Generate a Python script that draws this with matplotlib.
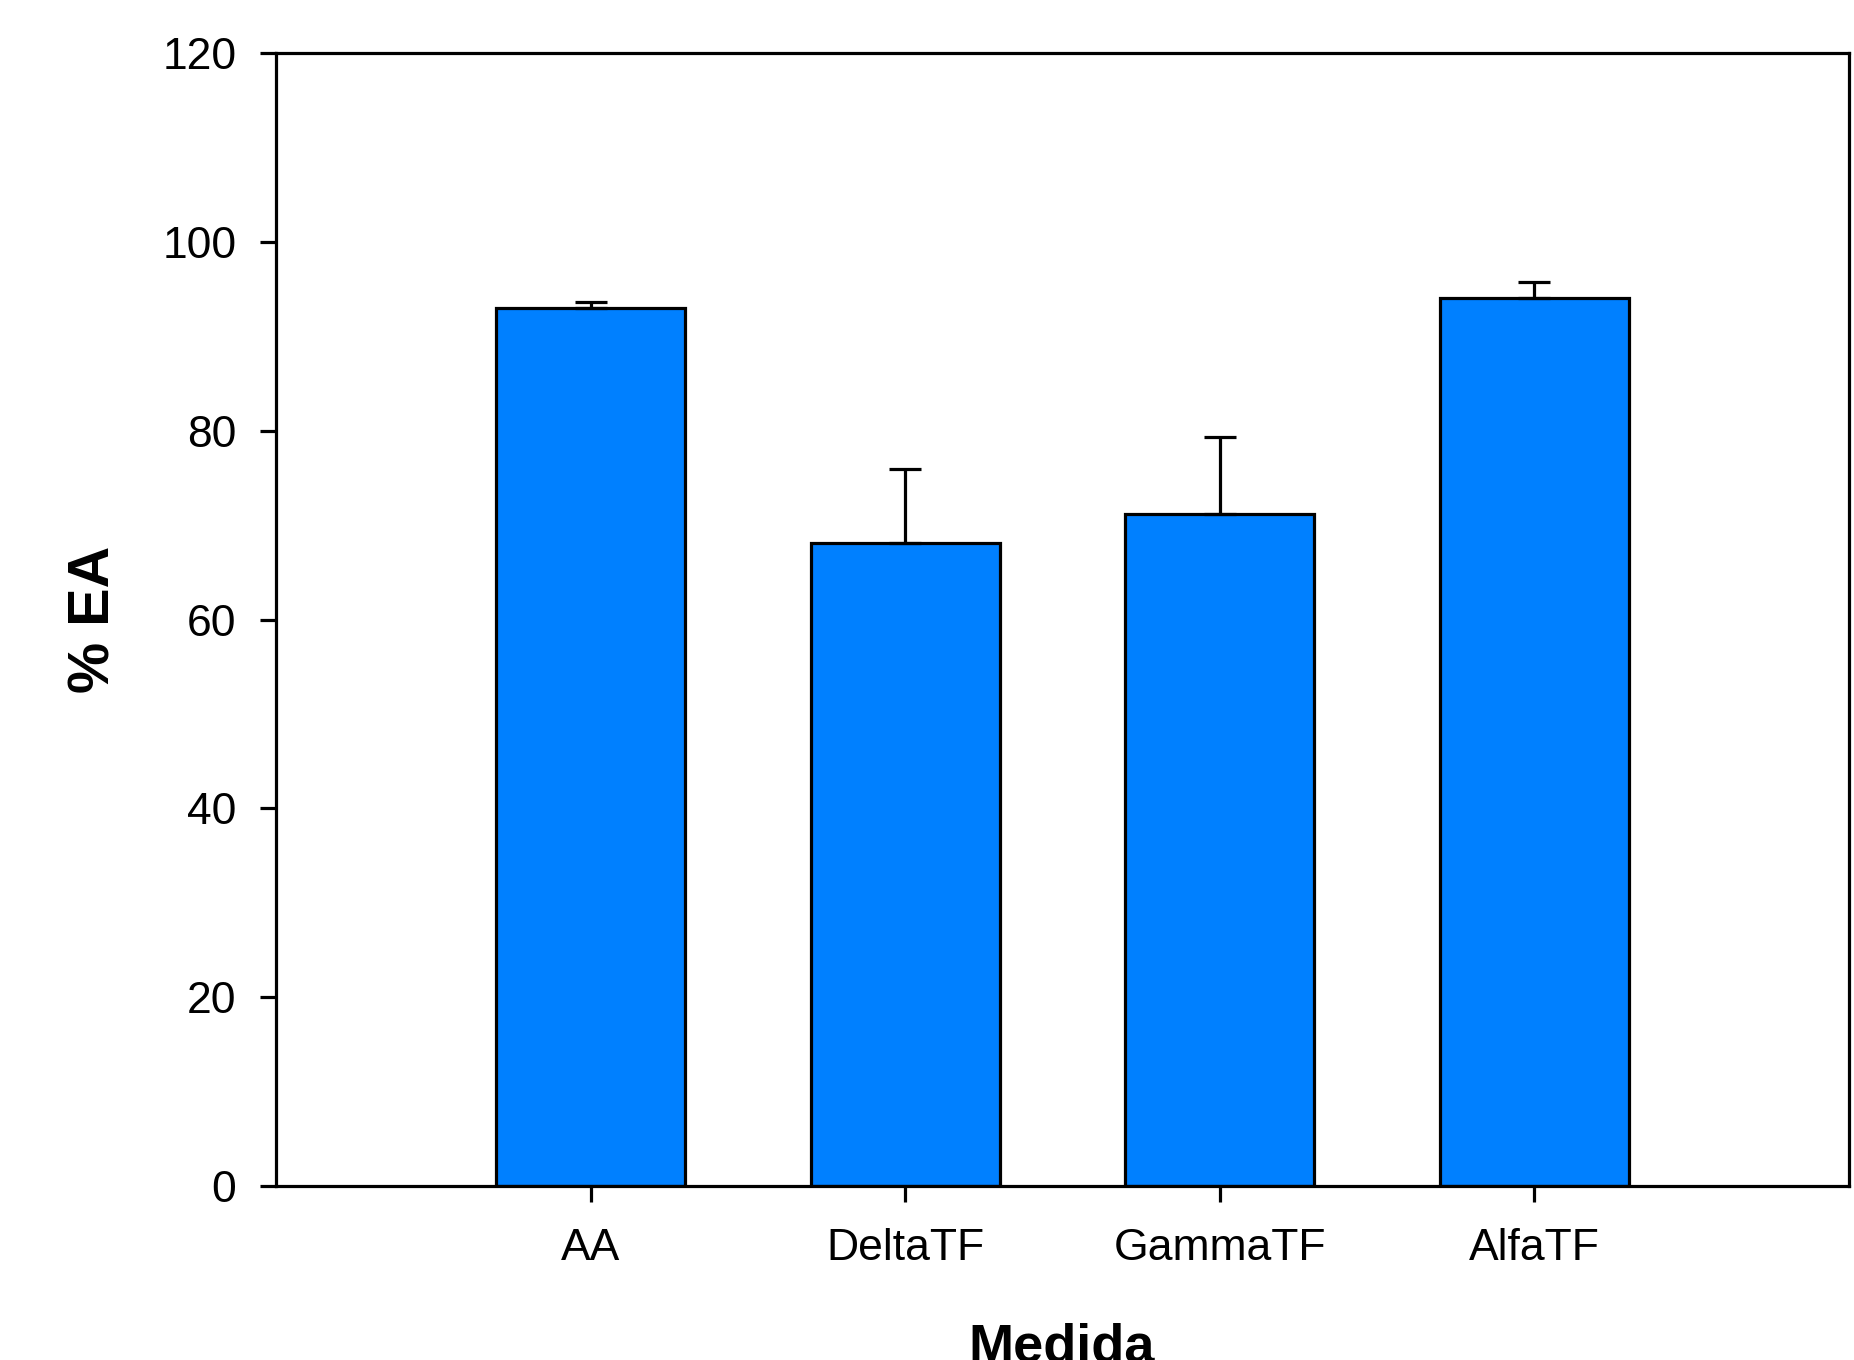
import matplotlib
matplotlib.use("Agg")
import matplotlib.pyplot as plt
import numpy as np

categories = ["AA", "DeltaTF", "GammaTF", "AlfaTF"]
values = [93.0, 68.1, 71.2, 94.0]
errors = [0.6, 7.8, 8.1, 1.7]
yticks = [0, 20, 40, 60, 80, 100, 120]

plt.rcParams['font.family'] = ['Liberation Sans', 'DejaVu Sans']

fig = plt.figure(figsize=(18.54, 13.6), dpi=100)
ax = fig.add_axes([276/1854, 1 - 1186/1360, (1849-276)/1854, (1186-53)/1360])

x = np.arange(len(categories))
ax.bar(x, values, width=0.6, color='#0080FF', edgecolor='black', linewidth=2.3, zorder=2)
ax.errorbar(x, values, yerr=[np.zeros(len(errors)), errors], fmt='none',
            ecolor='black', elinewidth=2.3, capsize=11.5, capthick=2.3, zorder=3)

ax.set_xlim(-1, 4)
ax.set_ylim(0, 120)
ax.set_xticks(x)
ax.set_xticklabels(categories)
ax.set_yticks(yticks)
ax.tick_params(axis='both', direction='out', length=11.5, width=2.3, labelsize=32)
ax.tick_params(axis='y', pad=17)
ax.tick_params(axis='x', pad=19)
for s in ax.spines.values():
    s.set_linewidth(2.3)

fig.text(95/1854, 0.5 * ((1360-1186) + (1360-53)) / 1360, "% EA", rotation=90,
         fontsize=41.5, fontweight='bold', ha='center', va='center')
fig.text(1062/1854, (1360-1362)/1360, "Medida", fontsize=39, fontweight='bold',
         ha='center', va='baseline')

fig.savefig("out.png", dpi=100)
